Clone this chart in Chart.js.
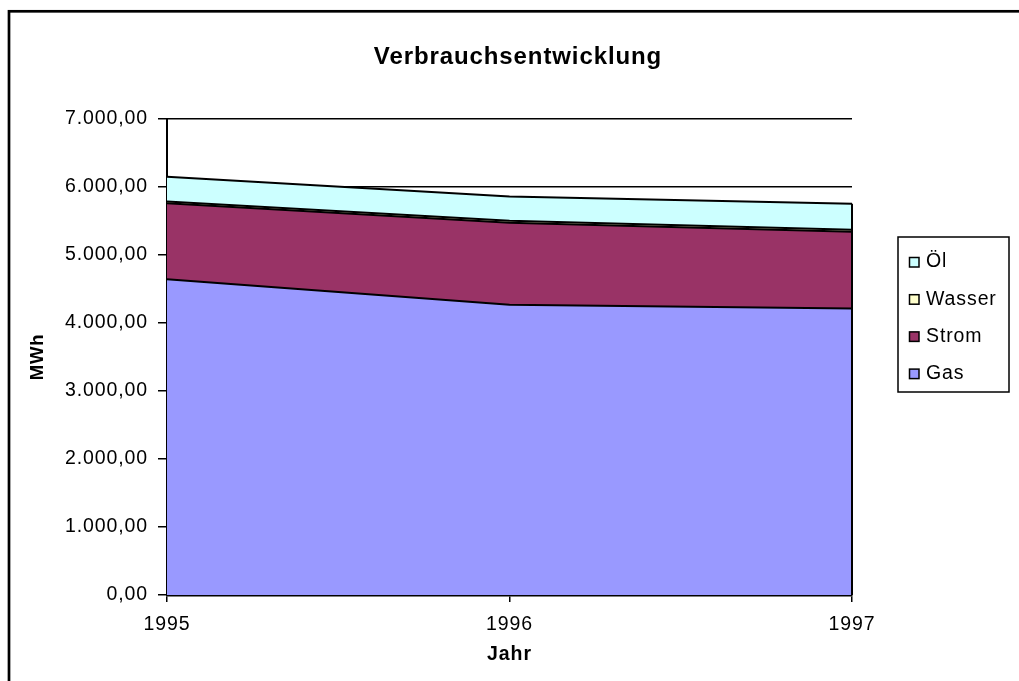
<!DOCTYPE html>
<html>
<head>
<meta charset="utf-8">
<script src="https://cdn.jsdelivr.net/npm/chart.js@4"></script>
<style>
  body { margin: 0; background: #fff; }
  #wrap { width: 1019px; height: 681px; }
</style>
</head>
<body>
<div id="wrap"><canvas id="verbrauchChart"></canvas></div>
<script>
// Daten (MWh)
var jahre = ["1995", "1996", "1997"];
var gas = [4640, 4265, 4210];
var strom = [1117, 1206, 1128];
var wasser = [29, 30, 32];
var oel = [361, 356, 380];

var yMax = 7000;
var yStep = 1000;

var schrift = "'Liberation Sans', Arial, sans-serif";

// 7000 -> "7.000,00"
function deZahl(v) {
	var teile = Number(v).toFixed(2).split(".");
	return teile[0].replace(/\B(?=(\d{3})+(?!\d))/g, ".") + "," + teile[1];
}

var ctx = document.getElementById("verbrauchChart");
var verbrauchChart = new Chart(ctx, {
	type: "line",
	data: {
		labels: jahre,
		datasets: [
			{ label: "Gas", data: gas, backgroundColor: "#9999ff", fill: "origin" },
			{ label: "Strom", data: strom, backgroundColor: "#993366", fill: "-1" },
			{ label: "Wasser", data: wasser, backgroundColor: "#ffffcc", fill: "-1" },
			{ label: "Öl", data: oel, backgroundColor: "#ccffff", fill: "-1" },
		],
	},
	options: {
		responsive: true,
		maintainAspectRatio: false,
		animation: false,
		devicePixelRatio: 1,
		layout: { padding: { left: 17, right: 0, top: 0, bottom: 0 } },
		elements: {
			line: { tension: 0, borderWidth: 2, borderColor: "#000" },
			point: { radius: 0, hoverRadius: 0 },
		},
		plugins: {
			legend: { display: false },
			tooltip: { enabled: false },
			title: {
				display: true,
				text: "Verbrauchsentwicklung",
				color: "#000",
				font: { family: schrift, size: 24, weight: "bold" },
				padding: { top: 43, bottom: 47 },
			},
		},
		scales: {
			x: {
				offset: false,
				grid: { display: true, drawOnChartArea: false, color: "#000", lineWidth: 1.5, tickLength: 7 },
				border: { color: "#000", width: 2.5 },
				ticks: { color: "#000", font: { family: schrift, size: 19.5 }, padding: 11, maxRotation: 0 },
				title: {
					display: true,
					text: "Jahr",
					color: "#000",
					font: { family: schrift, size: 19.5, weight: "bold" },
					padding: { top: 0, bottom: 15 },
				},
				afterFit: function (scale) { scale.height = 86; },
			},
			y: {
				stacked: true,
				min: 0,
				max: yMax,
				grid: { color: "#000", lineWidth: 1.5, tickLength: 9 },
				border: { color: "#000", width: 2 },
				ticks: {
					stepSize: yStep,
					color: "#000",
					padding: 10,
					font: { family: schrift, size: 19.5 },
					callback: function (v) { return deZahl(v); },
				},
				title: {
					display: true,
					text: "MWh",
					color: "#000",
					font: { family: schrift, size: 18.5, weight: "bold" },
					padding: { top: 10, bottom: 0 },
				},
				afterFit: function (scale) { scale.width = 150; },
			},
			// leere Achse rechts, hält Platz für die Legende frei
			platz: {
				type: "linear",
				position: "right",
				display: true,
				grid: { display: false },
				ticks: { display: false },
				border: { display: false },
				afterFit: function (scale) { scale.width = 167; },
			},
		},
	},
	plugins: [
		{
			beforeUpdate: function (chart) { chart.ctx.letterSpacing = "0.9px"; },
			beforeDraw: function (chart) { chart.ctx.letterSpacing = "0.9px"; },
			afterDatasetsDraw: function (chart) {
				// senkrechte Kante der Flächen bei 1997
				var c = chart.ctx;
				var meta = chart.getDatasetMeta(chart.data.datasets.length - 1);
				var last = meta.data[meta.data.length - 1];
				c.save();
				c.strokeStyle = "#000";
				c.lineWidth = 2;
				c.beginPath();
				c.moveTo(last.x, last.y);
				c.lineTo(last.x, chart.scales.y.getPixelForValue(0));
				c.stroke();
				c.restore();
			},
			afterDraw: function (chart) {
				var c = chart.ctx;
				c.save();
				// Rahmen ums Diagramm
				c.strokeStyle = "#000";
				c.lineWidth = 2.7;
				c.strokeRect(9, 11.3, 1040, 720);

				// Legende (Reihenfolge umgekehrt)
				c.lineWidth = 1.5;
				c.strokeRect(898, 237, 111, 155);
				var eintraege = chart.data.datasets.slice().reverse();
				c.font = "19.5px " + schrift;
				c.textBaseline = "middle";
				eintraege.forEach(function (ds, i) {
					var y = 262 + i * 37.2;
					c.fillStyle = ds.backgroundColor;
					c.fillRect(909.5, y - 4.5, 9.5, 9.5);
					c.lineWidth = 1.5;
					c.strokeRect(909.5, y - 4.5, 9.5, 9.5);
					c.fillStyle = "#000";
					c.fillText(ds.label, 926, y);
				});
				c.restore();
			},
		},
	],
});
</script>
</body>
</html>
